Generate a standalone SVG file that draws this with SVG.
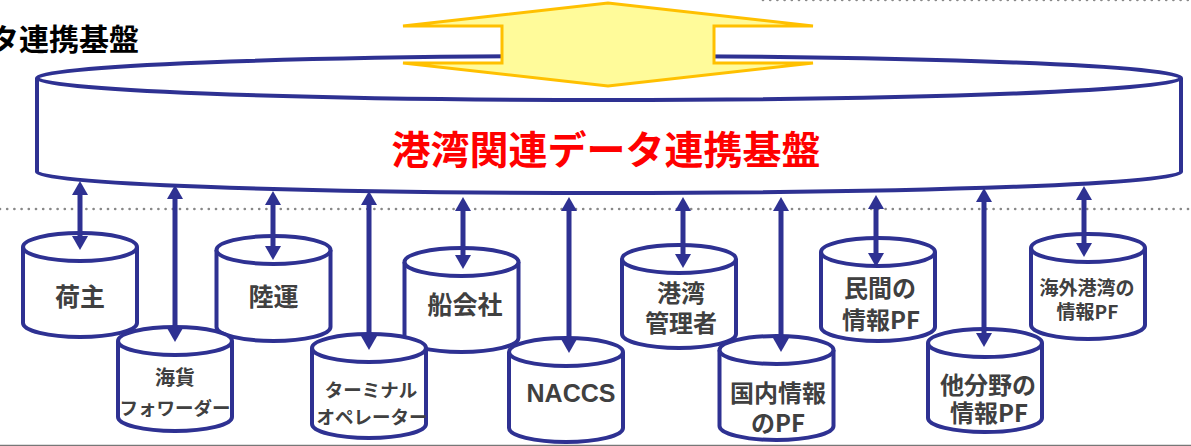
<svg xmlns="http://www.w3.org/2000/svg" width="1191" height="446" viewBox="0 0 1191 446">
<defs>
<style>
.cyl{fill:#fff;stroke:#2E3192;stroke-width:4;stroke-linejoin:round}
.lbl{font-family:"Noto Sans CJK JP","Noto Sans",sans-serif;font-weight:bold;fill:#404040;text-anchor:middle}
.conn{stroke:#2E3192;stroke-width:5;fill:none;marker-start:url(#ah);marker-end:url(#ah)}
.dots{stroke:#888;stroke-width:2.7;stroke-linecap:round;stroke-dasharray:0 7.2;fill:none}
</style>
<marker id="ah" viewBox="0 0 14 16" refX="2" refY="8" markerWidth="14" markerHeight="16" markerUnits="userSpaceOnUse" orient="auto-start-reverse">
<path d="M0,0 L14,8 L0,16 z" fill="#2E3192"/>
</marker>
</defs>
<rect width="1191" height="446" fill="#fff"/>
<line x1="763" y1="0" x2="1191" y2="0" class="dots" stroke="#aaa"/>
<line x1="0" y1="209" x2="1191" y2="209" class="dots"/>
<line x1="0" y1="445.5" x2="1191" y2="445.5" stroke="#777" stroke-width="1.5"/>
<text x="139" y="50" font-family="'Noto Sans CJK JP',sans-serif" font-weight="bold" font-size="30" fill="#000" text-anchor="end">タ連携基盤</text>
<g id="platform">
<path class="cyl" d="M37,78 V172 A572,21 0 0,0 1181,172 V78"/>
<ellipse class="cyl" cx="609" cy="78" rx="572" ry="22"/>
<text x="606" y="164" font-family="'Noto Sans CJK JP',sans-serif" font-weight="bold" font-size="39" fill="#FF0000" text-anchor="middle">港湾関連データ連携基盤</text>
</g>
<g id="bigarrow">
<polygon points="403,26 608,3 813,26 714,26 714,63 813,63 608,86 403,63 502,63 502,26" fill="#FFFB9A" stroke="#FFC000" stroke-width="3" stroke-linejoin="miter"/>
</g>
<g id="n1"><path class="cyl" d="M23,247 V323 A57,14 0 0,0 137,323 V247"/><ellipse class="cyl" cx="80" cy="247" rx="57" ry="14"/><text class="lbl" x="80" y="306" font-size="25">荷主</text></g>
<g id="n3"><path class="cyl" d="M216.5,250 V327 A57,14 0 0,0 330.5,327 V250"/><ellipse class="cyl" cx="273.5" cy="250" rx="57" ry="14"/><text class="lbl" x="273.5" y="306" font-size="25">陸運</text></g>
<g id="n5"><path class="cyl" d="M404.5,262 V338 A57,14 0 0,0 518.5,338 V262"/><ellipse class="cyl" cx="461.5" cy="262" rx="57" ry="14"/><text class="lbl" x="465" y="314" font-size="25">船会社</text></g>
<g id="n7"><path class="cyl" d="M622,259 V334 A57,14 0 0,0 736,334 V259"/><ellipse class="cyl" cx="679" cy="259" rx="57" ry="14"/><text class="lbl" x="681" y="301.5" font-size="24">港湾</text><text class="lbl" x="681" y="331.5" font-size="24">管理者</text></g>
<g id="n9"><path class="cyl" d="M821,252 V327 A57,14 0 0,0 935,327 V252"/><ellipse class="cyl" cx="878" cy="252" rx="57" ry="14"/><text class="lbl" x="880" y="296.5" font-size="24">民間の</text><text class="lbl" x="881" y="328.5" font-size="24">情報PF</text></g>
<g id="n11"><path class="cyl" d="M1031,248 V325 A57,14 0 0,0 1145,325 V248"/><ellipse class="cyl" cx="1088" cy="248" rx="57" ry="14"/><text class="lbl" x="1087" y="294.7" font-size="19">海外港湾の</text><text class="lbl" x="1087.5" y="318.7" font-size="19">情報PF</text></g>
<g id="n2"><path class="cyl" d="M118,341 V417 A57,14 0 0,0 232,417 V341"/><ellipse class="cyl" cx="175" cy="341" rx="57" ry="14"/><text class="lbl" x="175" y="385" font-size="20">海貨</text><text class="lbl" x="175" y="414.5" font-size="18.5">フォワーダー</text></g>
<g id="n4"><path class="cyl" d="M312,348 V424 A57,14 0 0,0 426,424 V348"/><ellipse class="cyl" cx="369" cy="348" rx="57" ry="14"/><text class="lbl" x="371" y="396.5" font-size="18.5">ターミナル</text><text class="lbl" x="372" y="423.5" font-size="18.5">オペレーター</text></g>
<g id="n6"><path class="cyl" d="M509,352 V428 A57,14 0 0,0 623,428 V352"/><ellipse class="cyl" cx="566" cy="352" rx="57" ry="14"/><text x="571" y="402" font-family="'Liberation Sans',Arial,sans-serif" font-weight="bold" font-size="25" fill="#404040" text-anchor="middle">NACCS</text></g>
<g id="n8"><path class="cyl" d="M719.5,350 V426 A57,14 0 0,0 833.5,426 V350"/><ellipse class="cyl" cx="776.5" cy="350" rx="57" ry="14"/><text class="lbl" x="778" y="401.5" font-size="24">国内情報</text><text class="lbl" x="778" y="431.5" font-size="24">のPF</text></g>
<g id="n10"><path class="cyl" d="M928,343 V418 A57,14 0 0,0 1042,418 V343"/><ellipse class="cyl" cx="985" cy="343" rx="57" ry="14"/><text class="lbl" x="988" y="393.5" font-size="24">他分野の</text><text class="lbl" x="989" y="421.5" font-size="24">情報PF</text></g>
<g id="connectors">
<line class="conn" x1="80" y1="193" x2="80" y2="238"/>
<line class="conn" x1="175" y1="197" x2="175" y2="330"/>
<line class="conn" x1="273" y1="203" x2="273" y2="248"/>
<line class="conn" x1="369" y1="203" x2="369" y2="338"/>
<line class="conn" x1="463" y1="209" x2="463" y2="257"/>
<line class="conn" x1="569" y1="209" x2="569" y2="341"/>
<line class="conn" x1="683" y1="209" x2="683" y2="256"/>
<line class="conn" x1="781" y1="209" x2="781" y2="340"/>
<line class="conn" x1="876" y1="207" x2="876" y2="255"/>
<line class="conn" x1="984" y1="200" x2="984" y2="335"/>
<line class="conn" x1="1084" y1="198" x2="1084" y2="245"/>
</g>
</svg>
